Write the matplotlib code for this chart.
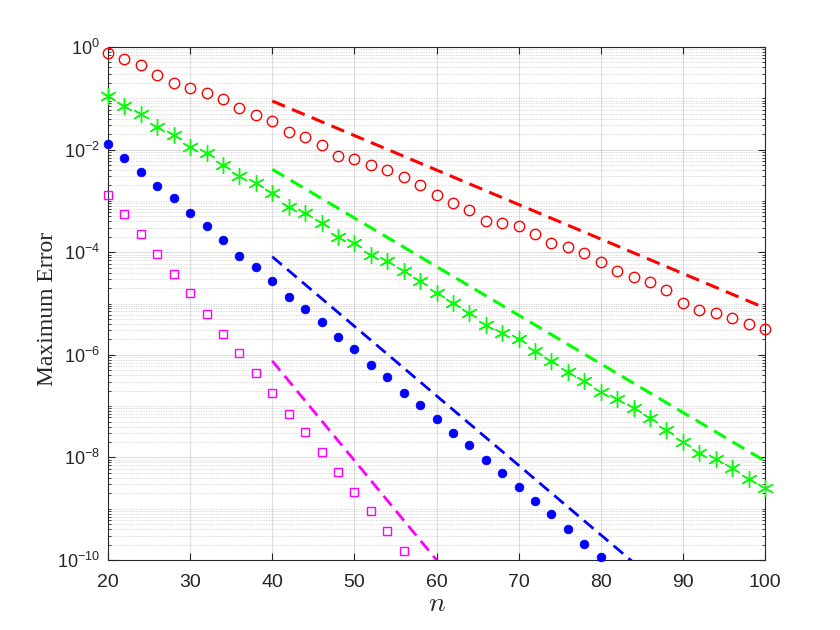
import numpy as np
import matplotlib
matplotlib.use('Agg')
import matplotlib.pyplot as plt
from matplotlib.ticker import FixedLocator, LogLocator, NullFormatter

plt.rcParams['font.family'] = ['Liberation Sans', 'DejaVu Sans']
plt.rcParams['mathtext.fontset'] = 'custom'
plt.rcParams['mathtext.rm'] = 'Liberation Sans'
plt.rcParams['mathtext.it'] = 'Liberation Sans:italic'

# error curves, n = 20, 22, ...
n_red = np.arange(20, 101, 2)
err_red = [0.753, 0.575, 0.446, 0.284, 0.201, 0.157, 0.129, 9.55e-2, 6.38e-2, 4.72e-2,
           3.61e-2, 2.23e-2, 1.78e-2, 1.23e-2, 7.60e-3, 6.47e-3, 5.01e-3, 4.00e-3, 2.96e-3, 2.04e-3,
           1.30e-3, 9.23e-4, 6.65e-4, 4.11e-4, 3.76e-4, 3.24e-4, 2.26e-4, 1.53e-4, 1.28e-4, 9.53e-5,
           6.53e-5, 4.36e-5, 3.24e-5, 2.66e-5, 1.83e-5, 1.04e-5, 7.46e-6, 6.44e-6, 5.15e-6, 3.98e-6,
           3.18e-6]

n_green = np.arange(20, 101, 2)
err_green = [0.112, 7.18e-2, 4.88e-2, 2.72e-2, 1.90e-2, 1.14e-2, 8.71e-3, 5.01e-3, 3.10e-3, 2.20e-3,
             1.45e-3, 7.71e-4, 5.73e-4, 3.66e-4, 2.00e-4, 1.53e-4, 8.71e-5, 6.73e-5, 4.27e-5, 2.75e-5,
             1.63e-5, 1.04e-5, 6.62e-6, 3.81e-6, 2.70e-6, 2.00e-6, 1.20e-6, 7.57e-7, 4.69e-7, 3.13e-7,
             1.91e-7, 1.36e-7, 9.06e-8, 5.78e-8, 3.42e-8, 1.97e-8, 1.24e-8, 9.44e-9, 6.12e-9, 3.74e-9,
             2.50e-9]

n_blue = np.arange(20, 81, 2)
err_blue = [1.29e-2, 6.95e-3, 3.71e-3, 1.95e-3, 1.12e-3, 5.73e-4, 3.24e-4, 1.73e-4, 8.55e-5, 5.08e-5,
            2.75e-5, 1.34e-5, 7.92e-6, 4.31e-6, 2.19e-6, 1.28e-6, 6.32e-7, 3.69e-7, 1.82e-7, 1.05e-7,
            5.61e-8, 3.03e-8, 1.72e-8, 8.77e-9, 4.90e-9, 2.61e-9, 1.43e-9, 7.78e-10, 4.02e-10, 2.02e-10,
            1.16e-10]

n_mag = np.arange(20, 57, 2)
err_mag = [1.30e-3, 5.48e-4, 2.26e-4, 9.10e-5, 3.71e-5, 1.58e-5, 6.24e-6, 2.51e-6, 1.07e-6, 4.36e-7,
           1.78e-7, 7.02e-8, 3.08e-8, 1.26e-8, 5.13e-9, 2.09e-9, 8.89e-10, 3.62e-10, 1.48e-10]

# dashed reference rates (end points)
n_ref_red = [40, 100]
ref_red = [8.85e-2, 8.17e-6]
n_ref_green = [40, 100]
ref_green = [4.13e-3, 8.5e-9]
n_ref_blue = [40, 84]
ref_blue = [8.17e-5, 8.9e-11]
n_ref_mag = [40, 60]
ref_mag = [7.6e-7, 1.0e-10]

fig = plt.figure(figsize=(8.4, 6.3), dpi=100)
ax = fig.add_axes([0.1286, 0.1111, 0.7821, 0.8143])

ax.semilogy(n_red, err_red, 'o', color='red', mfc='none', ms=7.5, mew=1.0, clip_on=False, zorder=3)
ax.semilogy(n_green, err_green, marker=(6, 2, 0), ls='none', color=(0, 1, 0), ms=12, mew=1.0, clip_on=False, zorder=3)
ax.semilogy(n_blue, err_blue, 'o', color='blue', ms=6.3, mew=0.5, clip_on=False, zorder=3)
ax.semilogy(n_mag, err_mag, 's', color='magenta', mfc='none', ms=6, mew=1.0, clip_on=False, zorder=3)

dash = (0, (4.5, 2.5))
ax.semilogy(n_ref_red, ref_red, color='red', lw=2.2, ls=dash)
ax.semilogy(n_ref_green, ref_green, color=(0, 1, 0), lw=2.2, ls=dash)
ax.semilogy(n_ref_blue, ref_blue, color='blue', lw=2.0, ls=dash)
ax.semilogy(n_ref_mag, ref_mag, color='magenta', lw=2.0, ls=dash)

ax.set_xlim(20, 100)
ax.set_ylim(1e-10, 1e0)
ax.set_xticks(np.arange(20, 101, 10))
ax.yaxis.set_major_locator(FixedLocator([10.0 ** k for k in range(-10, 1, 2)]))
ax.yaxis.set_minor_locator(LogLocator(base=10, subs=np.arange(1, 10), numticks=30))
ax.yaxis.set_minor_formatter(NullFormatter())

ax.grid(True, which='major', color='0.15', alpha=0.15, lw=0.8)
ax.grid(True, which='minor', axis='y', color='0.15', alpha=0.2, lw=0.6, ls=(0, (1.5, 1.5)))
ax.tick_params(which='both', direction='in', top=True, right=True, colors='0.15')
ax.tick_params(which='major', length=5)
ax.tick_params(which='minor', length=2.5)
ax.tick_params(axis='x', labelsize=14, pad=10)
ax.tick_params(axis='y', labelsize=13, pad=6)
for s in ax.spines.values():
    s.set_color('0.15')
    s.set_linewidth(0.8)

ax.set_xlabel('$n$', fontsize=20, color='0.15', math_fontfamily='cm', labelpad=0)
ax.set_ylabel('Maximum Error', fontsize=17, color='0.15', family='Liberation Serif')
ax.yaxis.set_label_coords(-0.076, 0.49)

fig.savefig('out.png', dpi=100)
